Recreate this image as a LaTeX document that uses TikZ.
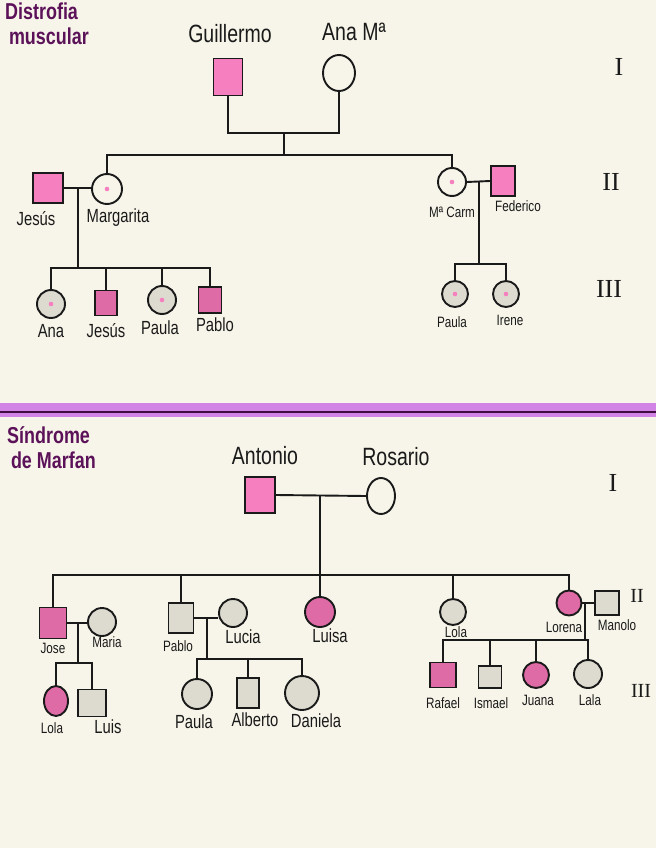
\documentclass[tikz,border=0pt]{standalone}
\usepackage{fontspec}
\setmainfont[FakeStretch=0.78]{Liberation Sans}
\newfontfamily\romfont{Liberation Serif}
\usetikzlibrary{shapes.geometric}
\definecolor{paper}{HTML}{F7F5E9}
\definecolor{rosa}{HTML}{F57FBF}
\definecolor{rosadark}{HTML}{DE6BA6}
\definecolor{gris}{HTML}{DDDBCF}
\definecolor{lila}{HTML}{D184E6}
\definecolor{ink}{HTML}{1A1A1A}
\definecolor{titleink}{HTML}{5C1259}

\begin{document}
\begin{tikzpicture}[
  x={(1pt,0)},y={(0,-1pt)},
  male/.style={draw=ink,line width=1.9pt,rectangle,inner sep=0pt},
  female/.style={draw=ink,line width=1.9pt,ellipse,inner sep=0pt},
  carrier/.style={path picture={\fill[rosa] (path picture bounding box.center) circle (2.3pt);}},
  bigname/.style={text=ink,font=\fontsize{25}{25}\selectfont},
  nombre/.style={text=ink,font=\fontsize{19}{19}\selectfont},
  smallname/.style={text=ink,font=\fontsize{15}{15}\selectfont},
  gen/.style={text=ink,font=\romfont\fontsize{26}{26}\selectfont},
  titulo/.style={align=left,anchor=north west,inner sep=0pt,text=titleink,font=\bfseries\fontsize{23}{25}\selectfont},
  line/.style={draw=ink,line width=1.9pt}
]
\useasboundingbox[fill=paper] (0,0) rectangle (656,848);

% distrofia muscular
\node[titulo] (tit1) at (5,3) {Distrofia\\\,muscular};

\node[male,fill=rosa,minimum width=29pt,minimum height=37pt] (guillermo) at (228,77) {};
\node[female,minimum width=32pt,minimum height=36pt] (anama) at (339,73) {};
\node[bigname] (lguillermo) at (230,34) {Guillermo};
\node[bigname] (lanama) at (354,32) {Ana Mª};

\coordinate (pareja1) at (284,133);
\coordinate (sib1) at (284,155);
\draw[line] (guillermo.south) |- (pareja1) -| (anama.south);
\draw[line] (pareja1) -- (sib1);

\node[male,fill=rosa,minimum width=30pt,minimum height=30pt] (jesus) at (48,188) {};
\node[female,carrier,minimum size=30pt] (margarita) at (107,189) {};
\node[female,carrier,minimum size=28pt] (mcarm) at (452,182) {};
\node[male,fill=rosa,minimum width=24pt,minimum height=30pt] (federico) at (503,181) {};
\draw[line] (margarita.north) |- (sib1) -| (mcarm.north);
\node[nombre] (ljesus) at (36,219) {Jesús};
\node[nombre] (lmargarita) at (118,218) {Margarita};
\node[smallname] (lmcarm) at (452,212) {Mª Carm};
\node[smallname] (lfederico) at (518,206) {Federico};

\draw[line] (jesus.east) -- (jesus.east -| margarita.west);
\coordinate (pareja2) at (78,188);
\coordinate (sib2) at (78,268);
\draw[line] (pareja2) -- (sib2);

\node[female,carrier,fill=gris,minimum size=28pt] (ana) at (51,304) {};
\node[male,fill=rosadark,minimum width=22pt,minimum height=25pt] (jesus2) at (106,303) {};
\node[female,carrier,fill=gris,minimum size=28pt] (paula) at (162,300) {};
\node[male,fill=rosadark,minimum width=23pt,minimum height=26pt] (pablo) at (210,300) {};
\draw[line] (ana.north) |- (sib2) -| (pablo.north);
\draw[line] (jesus2.north) -- (jesus2.north |- sib2);
\draw[line] (paula.north) -- (paula.north |- sib2);
\node[nombre] (lana) at (51,331) {Ana};
\node[nombre] (ljesus2) at (106,331) {Jesús};
\node[nombre] (lpaula) at (160,328) {Paula};
\node[nombre] (lpablo) at (215,325) {Pablo};

\draw[line] (mcarm.east) -- (federico.west);
\coordinate (pareja3) at (479,181);
\coordinate (sib3) at (479,264);
\draw[line] (pareja3) -- (sib3);
\node[female,carrier,fill=gris,minimum size=26pt] (paula2) at (455,294) {};
\node[female,carrier,fill=gris,minimum size=26pt] (irene) at (506,294) {};
\draw[line] (paula2.north) |- (sib3) -| (irene.north);
\node[smallname] (lpaula2) at (452,322) {Paula};
\node[smallname] (lirene) at (510,320) {Irene};

\node[gen] (g1a) at (619,67) {I};
\node[gen] (g2a) at (611,182) {II};
\node[gen] (g3a) at (609,289) {III};

% separador
\fill[lila] (0,403) rectangle (656,417);
\draw[titleink!70!black,line width=1.6pt] (0,412) -- (656,412);

% sindrome de marfan
\node[titulo] (tit2) at (7,426) {Síndrome\\\,de Marfan};

\node[male,fill=rosa,minimum width=30pt,minimum height=36pt] (antonio) at (260,495) {};
\node[female,minimum width=28pt,minimum height=36pt] (rosario) at (381,496) {};
\node[bigname] (lantonio) at (265,456) {Antonio};
\node[bigname] (lrosario) at (396,457) {Rosario};
\draw[line] (antonio.east) -- (rosario.west);
\coordinate (pareja4) at (320,496);
\coordinate (sib4) at (320,575);
\draw[line] (pareja4) -- (sib4);

\node[male,fill=rosadark,minimum width=27pt,minimum height=31pt] (jose) at (53,623) {};
\node[female,fill=gris,minimum size=28pt] (maria) at (102,622) {};
\node[male,fill=gris,minimum width=25pt,minimum height=30pt] (pablo2) at (181,618) {};
\node[female,fill=gris,minimum size=28pt] (lucia) at (233,613) {};
\node[female,fill=rosadark,minimum size=30pt] (luisa) at (320,612) {};
\node[female,fill=gris,minimum size=26pt] (lola) at (453,612) {};
\node[female,fill=rosadark,minimum size=25pt] (lorena) at (569,603) {};
\node[male,fill=gris,minimum width=24pt,minimum height=24pt] (manolo) at (607,603) {};
\draw[line] (jose.north) |- (sib4) -| (lorena.north);
\draw[line] (pablo2.north) -- (pablo2.north |- sib4);
\draw[line] (luisa.north) -- (sib4);
\draw[line] (lola.north) -- (lola.north |- sib4);
\node[smallname] (ljose) at (53,648) {Jose};
\node[smallname] (lmaria) at (107,642) {Maria};
\node[smallname] (lpablo2) at (178,646) {Pablo};
\node[nombre] (llucia) at (243,637) {Lucia};
\node[nombre] (lluisa) at (330,636) {Luisa};
\node[smallname] (llola) at (456,632) {Lola};
\node[smallname] (llorena) at (564,627) {Lorena};
\node[smallname] (lmanolo) at (617,625) {Manolo};

\draw[line] (jose.east) -- (jose.east -| maria.west);
\coordinate (pareja5) at (78,623);
\coordinate (sib5) at (78,663);
\draw[line] (pareja5) -- (sib5);
\node[female,fill=rosadark,minimum width=24pt,minimum height=30pt] (lola2) at (56,701) {};
\node[male,fill=gris,minimum width=28pt,minimum height=27pt] (luis) at (92,703) {};
\draw[line] (lola2.north) |- (sib5) -| (luis.north);
\node[smallname] (llola2) at (52,728) {Lola};
\node[nombre] (lluis) at (108,727) {Luis};

\draw[line] (pablo2.east) -- (pablo2.east -| lucia.west);
\coordinate (pareja6) at (207,618);
\coordinate (sib6) at (207,659);
\draw[line] (pareja6) -- (sib6);
\node[female,fill=gris,minimum size=30pt] (paula3) at (197,694) {};
\node[male,fill=gris,minimum width=22pt,minimum height=30pt] (alberto) at (248,693) {};
\node[female,fill=gris,minimum size=34pt] (daniela) at (302,693) {};
\draw[line] (paula3.north) |- (sib6) -| (daniela.north);
\draw[line] (alberto.north) -- (alberto.north |- sib6);
\node[nombre] (lpaula3) at (194,722) {Paula};
\node[nombre] (lalberto) at (255,720) {Alberto};
\node[nombre] (ldaniela) at (316,721) {Daniela};

\draw[line] (lorena.east) -- (manolo.west);
\coordinate (pareja7) at (585,603);
\coordinate (sib7) at (585,640);
\draw[line] (pareja7) -- (sib7);
\node[male,fill=rosadark,minimum width=26pt,minimum height=25pt] (rafael) at (443,675) {};
\node[male,fill=gris,minimum width=23pt,minimum height=22pt] (ismael) at (490,677) {};
\node[female,fill=rosadark,minimum size=26pt] (juana) at (536,675) {};
\node[female,fill=gris,minimum size=28pt] (lala) at (588,674) {};
\draw[line] (rafael.north) |- (sib7) -| (lala.north);
\draw[line] (ismael.north) -- (ismael.north |- sib7);
\draw[line] (juana.north) -- (juana.north |- sib7);
\node[smallname] (lrafael) at (443,703) {Rafael};
\node[smallname] (lismael) at (491,703) {Ismael};
\node[smallname] (ljuana) at (538,700) {Juana};
\node[smallname] (llala) at (590,700) {Lala};

\node[gen] (g1b) at (613,483) {I};
\node[gen,font=\romfont\fontsize{20}{20}\selectfont] (g2b) at (637,596) {II};
\node[gen,font=\romfont\fontsize{20}{20}\selectfont] (g3b) at (641,691) {III};
\end{tikzpicture}
\end{document}
